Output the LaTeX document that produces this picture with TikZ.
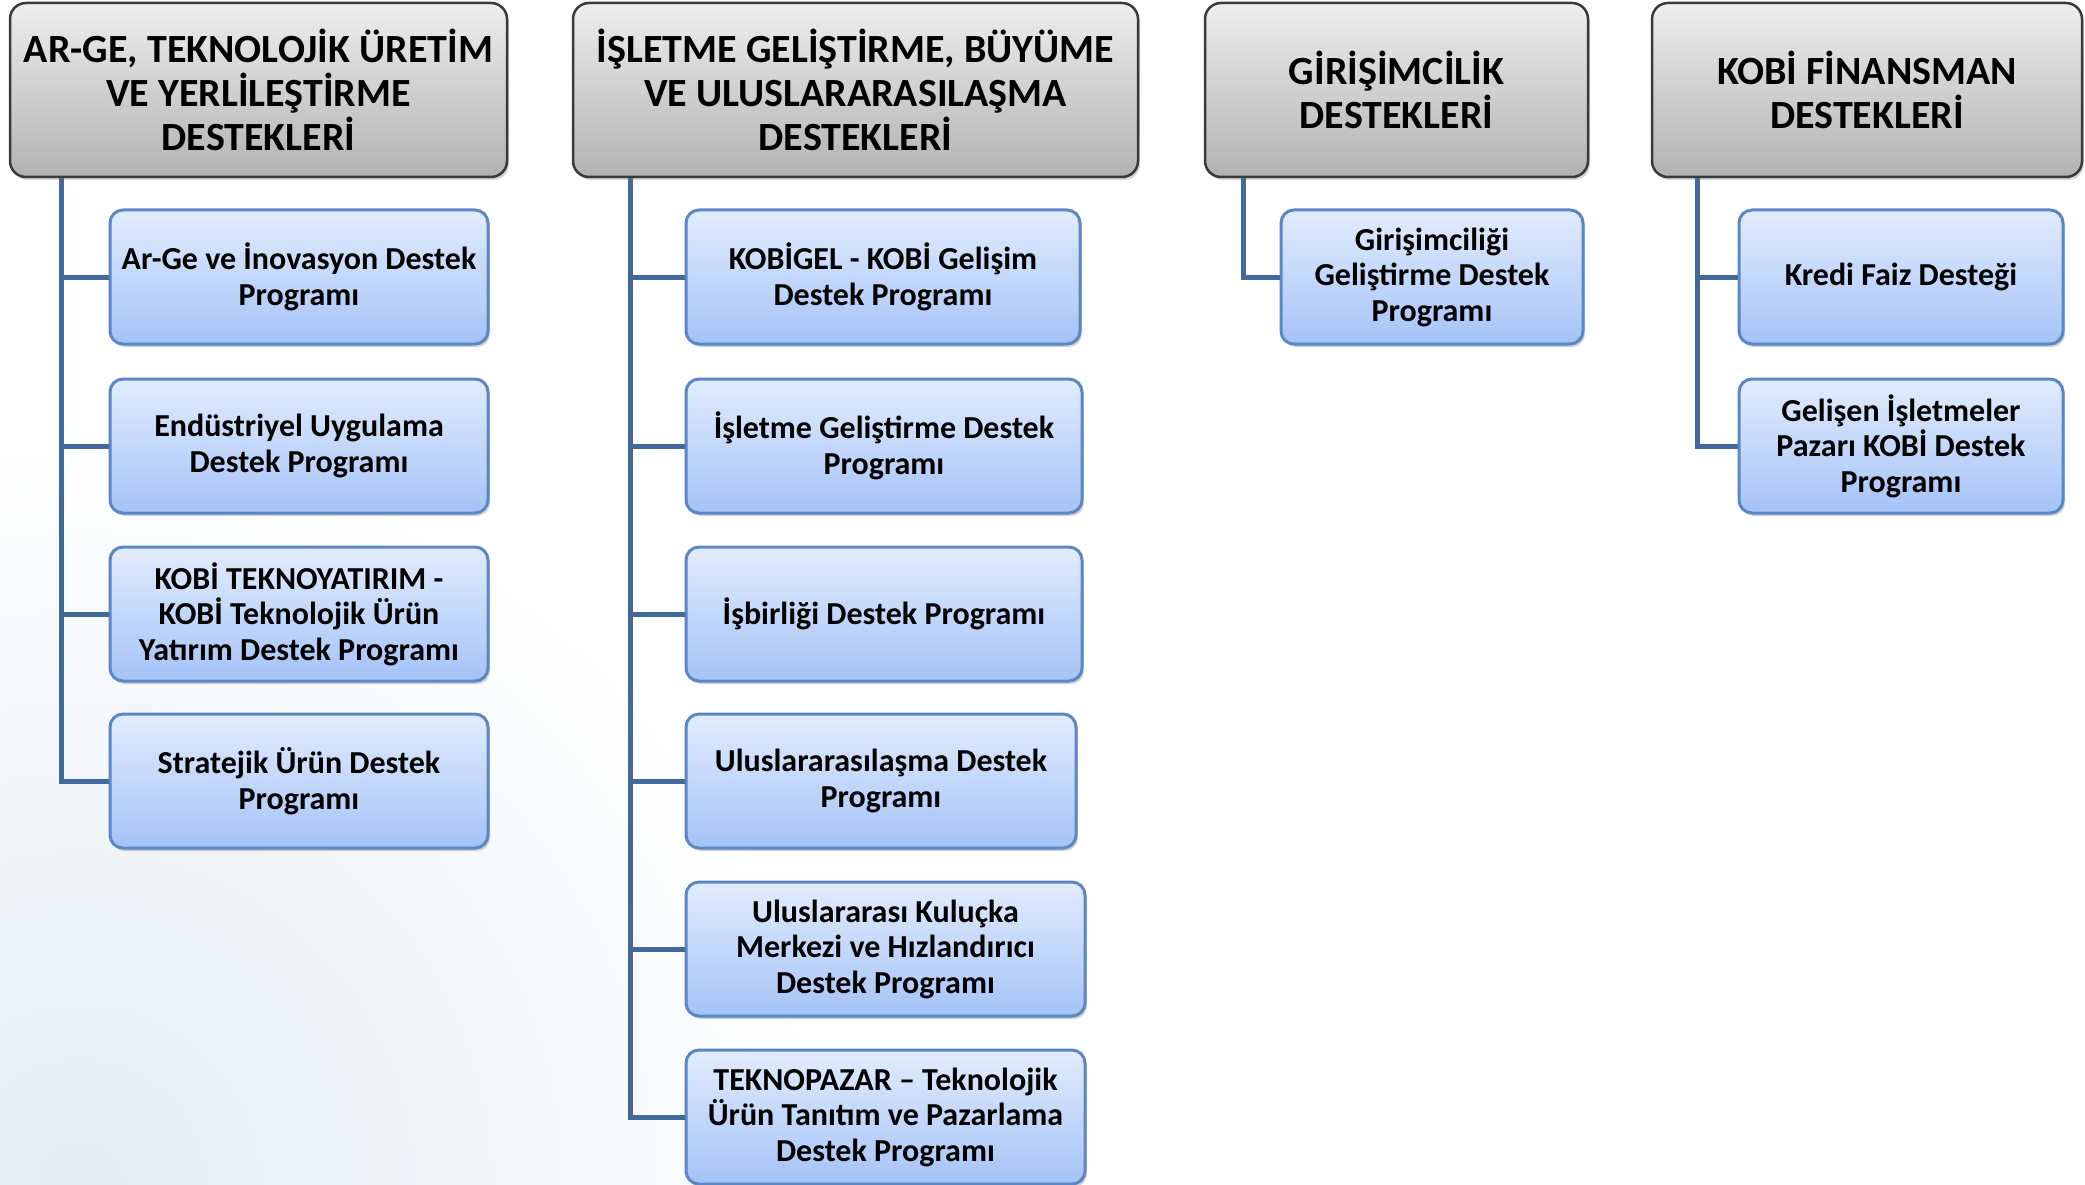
\documentclass[tikz,border=0pt]{standalone}
\usepackage{fontspec}
\setmainfont{Carlito}
\usetikzlibrary{shadows}
\definecolor{conncol}{HTML}{43699C}
\definecolor{hdrborder}{HTML}{3A3A3A}
\definecolor{hdrtop}{HTML}{EEEEEE}
\definecolor{hdrbot}{HTML}{B2B2B2}
\definecolor{childborder}{HTML}{5A87C5}
\definecolor{childtop}{HTML}{E2ECFD}
\definecolor{childbot}{HTML}{A5C3F8}
\definecolor{bgtint}{HTML}{E4ECF2}
\begin{document}
\begin{tikzpicture}[x=1pt,y=-1pt,
  hdr/.style={draw=hdrborder, line width=2.5pt, rounded corners=16pt,
    top color=hdrtop, bottom color=hdrbot,
    drop shadow={shadow xshift=2pt, shadow yshift=-3pt, opacity=0.35},
    align=center, inner sep=0pt, font=\bfseries\fontsize{40}{44}\selectfont},
  child/.style={draw=childborder, line width=3pt, rounded corners=13pt,
    top color=childtop, bottom color=childbot, minimum height=134pt,
    drop shadow={shadow xshift=2pt, shadow yshift=-3pt, opacity=0.35},
    align=center, inner sep=0pt, font=\bfseries\fontsize{32}{35.5}\selectfont},
  conn/.style={draw=conncol, line width=5pt}]
\useasboundingbox (0,0) rectangle (2085,1185);
\begin{scope}
\clip (0,0) rectangle (2085,1185);
\fill[white] (0,0) rectangle (2085,1185);
\shade[inner color=bgtint, outer color=white] (80,1185) circle (750);
\end{scope}
% headers
\node[hdr, minimum width=497pt, minimum height=174pt] (h1) at (258.5,90) {AR-GE, TEKNOLOJİK ÜRETİM\\VE YERLİLEŞTİRME\\DESTEKLERİ};
\node[hdr, minimum width=565pt, minimum height=174pt] (h2) at (855.5,90) {İŞLETME GELİŞTİRME, BÜYÜME\\VE ULUSLARARASILAŞMA\\DESTEKLERİ};
\node[hdr, minimum width=383pt, minimum height=174pt] (h3) at (1396.5,90) {GİRİŞİMCİLİK\\DESTEKLERİ};
\node[hdr, minimum width=430pt, minimum height=174pt] (h4) at (1867,90) {KOBİ FİNANSMAN\\DESTEKLERİ};
% trunk positions
\coordinate (t1) at (61,0);
\coordinate (t2) at (630,0);
\coordinate (t3) at (1243,0);
\coordinate (t4) at (1697,0);
% column 1
\node[child, minimum width=378pt] (c11) at (299,277) {Ar-Ge ve İnovasyon Destek\\Programı};
\node[child, minimum width=378pt] (c12) at (299,446) {Endüstriyel Uygulama\\Destek Programı};
\node[child, minimum width=378pt] (c13) at (299,614) {KOBİ TEKNOYATIRIM -\\KOBİ Teknolojik Ürün\\Yatırım Destek Programı};
\node[child, minimum width=378pt] (c14) at (299,781) {Stratejik Ürün Destek\\Programı};
% column 2
\node[child, minimum width=394pt] (c21) at (883,277) {KOBİGEL - KOBİ Gelişim\\Destek Programı};
\node[child, minimum width=396pt] (c22) at (884,446) {İşletme Geliştirme Destek\\Programı};
\node[child, minimum width=396pt] (c23) at (884,614) {İşbirliği Destek Programı};
\node[child, minimum width=390pt] (c24) at (881,781) {Uluslararasılaşma Destek\\Programı};
\node[child, minimum width=399pt] (c25) at (885.5,949) {Uluslararası Kuluçka\\Merkezi ve Hızlandırıcı\\Destek Programı};
\node[child, minimum width=399pt] (c26) at (885.5,1117) {TEKNOPAZAR – Teknolojik\\Ürün Tanıtım ve Pazarlama\\Destek Programı};
% column 3
\node[child, minimum width=302pt] (c31) at (1432,277) {Girişimciliği\\Geliştirme Destek\\Programı};
% column 4
\node[child, minimum width=324pt] (c41) at (1901,277) {Kredi Faiz Desteği};
\node[child, minimum width=324pt] (c42) at (1901,446) {Gelişen İşletmeler\\Pazarı KOBİ Destek\\Programı};
% connectors
\draw[conn] (t1 |- h1.south) |- (c14.west);
\draw[conn] (t1 |- c11.west) -- (c11.west);
\draw[conn] (t1 |- c12.west) -- (c12.west);
\draw[conn] (t1 |- c13.west) -- (c13.west);
\draw[conn] (t2 |- h2.south) |- (c26.west);
\draw[conn] (t2 |- c21.west) -- (c21.west);
\draw[conn] (t2 |- c22.west) -- (c22.west);
\draw[conn] (t2 |- c23.west) -- (c23.west);
\draw[conn] (t2 |- c24.west) -- (c24.west);
\draw[conn] (t2 |- c25.west) -- (c25.west);
\draw[conn] (t3 |- h3.south) |- (c31.west);
\draw[conn] (t4 |- h4.south) |- (c42.west);
\draw[conn] (t4 |- c41.west) -- (c41.west);
\end{tikzpicture}
\end{document}
